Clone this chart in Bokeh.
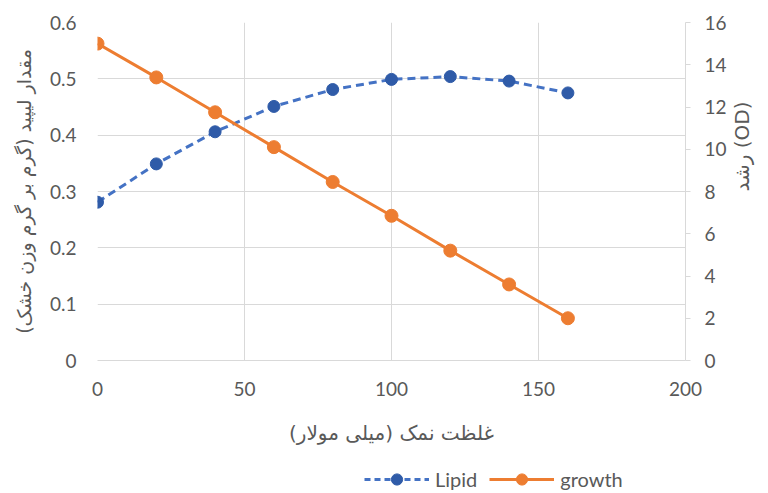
import math
from bokeh.plotting import figure
from bokeh.layouts import column
from bokeh.models import (ColumnDataSource, LinearAxis, Range1d, Legend, LegendItem,
                          FixedTicker)
from bokeh.embed import file_html
from bokeh.resources import INLINE

# Salt concentration (mM)
salt = [0, 20, 40, 60, 80, 100, 120, 140, 160]
# Lipid content (g per g dry weight)
lipid = [0.281, 0.349, 0.406, 0.451, 0.481, 0.499, 0.504, 0.496, 0.475]
# Growth (OD)
growth = [15.0, 13.4, 11.75, 10.1, 8.45, 6.85, 5.2, 3.6, 2.0]

x_ticks = [0, 50, 100, 150, 200]
y_ticks = [0, 0.1, 0.2, 0.3, 0.4, 0.5, 0.6]
y2_ticks = [0, 2, 4, 6, 8, 10, 12, 14, 16]

x_title = "غلظت نمک (میلی مولار)"
y_title = "مقدار لیپید (گرم بر گرم وزن خشک)"
y2_title = "رشد (OD)"

TEXT = "#595959"
GRID = "#d9d9d9"
BLUE_LINE = "#4472C4"
BLUE_MARK = "#2F5BA8"
ORANGE = "#ED7D31"
NUM_FONT = "Lato"
FA_FONT = "DejaVu Sans"

src = ColumnDataSource(dict(x=salt, lipid=lipid, growth=growth))

p = figure(width=768, height=453, output_backend="svg", toolbar_location=None,
           x_range=Range1d(0, 200), y_range=Range1d(0, 0.6),
           min_border_left=97, min_border_right=79, min_border_top=22,
           min_border_bottom=93)
p.outline_line_color = None
p.background_fill_color = "white"
p.border_fill_color = "white"

p.extra_y_ranges = {"growth": Range1d(0, 16)}

# bottom axis
xa = p.xaxis[0]
xa.ticker = FixedTicker(ticks=x_ticks)
xa.axis_line_color = GRID
xa.major_tick_line_color = None
xa.minor_tick_line_color = None
xa.major_label_text_font = NUM_FONT
xa.major_label_text_font_size = "19px"
xa.major_label_text_color = TEXT
xa.major_label_standoff = 15
xa.axis_label = x_title
xa.axis_label_text_font = FA_FONT
xa.axis_label_text_font_size = "20px"
xa.axis_label_text_font_style = "normal"
xa.axis_label_text_color = TEXT
xa.axis_label_standoff = 22

# left axis
ya = p.yaxis[0]
ya.ticker = FixedTicker(ticks=y_ticks)
ya.axis_line_color = None
ya.major_tick_line_color = None
ya.minor_tick_line_color = None
ya.major_label_text_font = NUM_FONT
ya.major_label_text_font_size = "19px"
ya.major_label_text_color = TEXT
ya.major_label_standoff = 15
ya.axis_label = y_title
ya.axis_label_text_font = FA_FONT
ya.axis_label_text_font_size = "19px"
ya.axis_label_text_font_style = "normal"
ya.axis_label_text_color = TEXT
ya.axis_label_standoff = 12

# right axis for growth
ra = LinearAxis(y_range_name="growth", ticker=FixedTicker(ticks=y2_ticks))
ra.axis_line_color = GRID
ra.major_tick_line_color = GRID
ra.major_tick_out = 5
ra.major_tick_in = 0
ra.minor_tick_line_color = None
ra.major_label_text_font = NUM_FONT
ra.major_label_text_font_size = "19px"
ra.major_label_text_color = TEXT
ra.major_label_standoff = 14
ra.axis_label = y2_title
ra.axis_label_text_font = FA_FONT
ra.axis_label_text_font_size = "20px"
ra.axis_label_text_font_style = "normal"
ra.axis_label_text_color = TEXT
ra.axis_label_standoff = 12
if "axis_label_orientation" in ra.properties():
    ra.axis_label_orientation = math.pi / 2
p.add_layout(ra, "right")

p.xgrid.ticker = FixedTicker(ticks=x_ticks)
p.ygrid.ticker = FixedTicker(ticks=y_ticks)
p.xgrid.grid_line_color = GRID
p.ygrid.grid_line_color = GRID

# series
p.line("x", "lipid", source=src, line_color=BLUE_LINE, line_width=3,
       line_dash="8 5")
p.scatter("x", "lipid", source=src, size=12, fill_color=BLUE_MARK,
          line_color=BLUE_MARK)
p.line("x", "growth", source=src, y_range_name="growth",
       line_color=ORANGE, line_width=3)
p.scatter("x", "growth", source=src, y_range_name="growth", size=13,
          fill_color=ORANGE, line_color=ORANGE)

# legend strip under the chart; its glyphs are styled like the series above
leg = figure(width=768, height=40, output_backend="svg", toolbar_location=None,
             x_axis_location=None, y_axis_location=None, min_border=0,
             x_range=Range1d(-1000, -999), y_range=Range1d(-1000, -999))
leg.outline_line_color = None
leg.grid.visible = False
leg.background_fill_color = "white"
leg.border_fill_color = "white"

k1 = leg.line("x", "lipid", source=src, line_color=BLUE_LINE, line_width=3,
              line_dash="6 4")
k2 = leg.scatter("x", "lipid", source=src, fill_color=BLUE_MARK,
                 line_color=BLUE_MARK)
k3 = leg.line("x", "growth", source=src, line_color=ORANGE, line_width=3)
k4 = leg.scatter("x", "growth", source=src, fill_color=ORANGE,
                 line_color=ORANGE)

legend = Legend(items=[LegendItem(label="Lipid", renderers=[k1, k2]),
                       LegendItem(label="growth", renderers=[k3, k4])],
                orientation="horizontal", location=(267, 0))
legend.border_line_color = None
legend.background_fill_alpha = 0
legend.label_text_font = NUM_FONT
legend.label_text_font_size = "20px"
legend.label_text_color = TEXT
legend.glyph_width = 65
legend.glyph_height = 28
legend.label_standoff = 6
legend.spacing = 12
legend.padding = 0
legend.margin = 0
leg.add_layout(legend, "center")

layout = column(p, leg, spacing=0)
open("out.html", "w").write(file_html(layout, INLINE))
